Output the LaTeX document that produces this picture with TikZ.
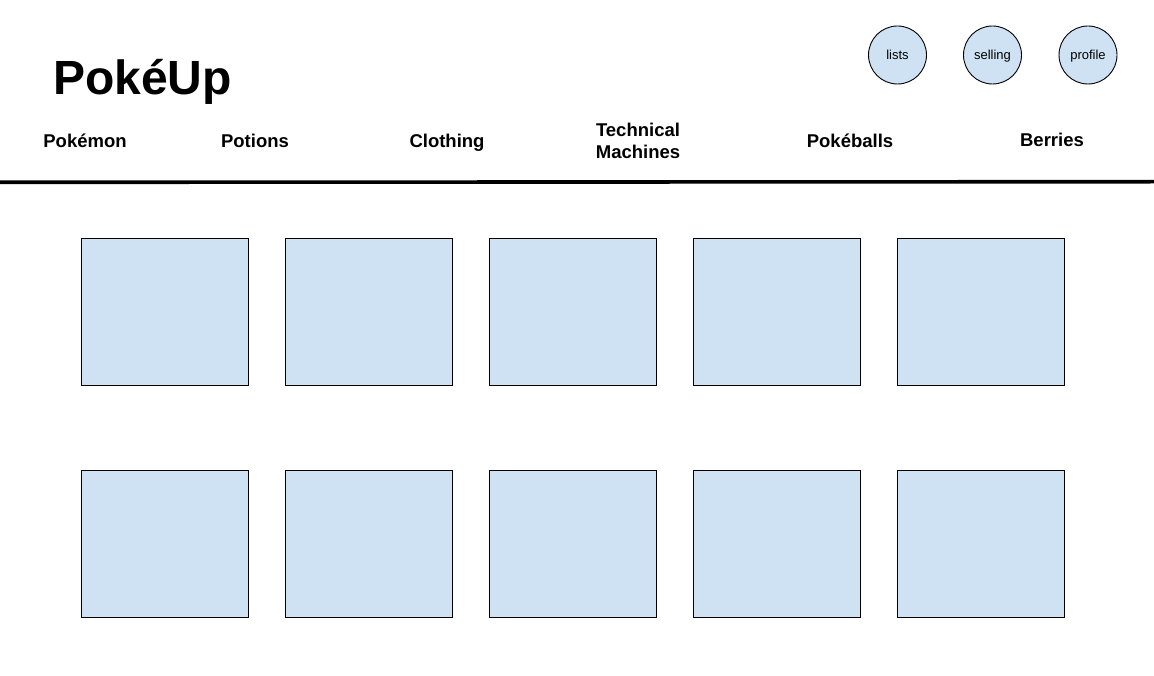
\documentclass[tikz,border=0pt]{standalone}
\usepackage{fontspec}
\setmainfont{Liberation Sans}
\definecolor{boxfill}{HTML}{CFE2F3}
\begin{document}
\begin{tikzpicture}[x=1pt,y=-1pt,
  tile/.style={draw=black,line width=0.9pt,fill=boxfill},
  navbtn/.style={circle,draw=black,line width=0.9pt,fill=boxfill,minimum size=58pt,inner sep=0pt,font=\fontsize{13}{15}\selectfont,text height=9.5pt,text depth=0pt},
  menu/.style={font=\bfseries\fontsize{18.5}{22}\selectfont,inner sep=0pt,text height=13.3pt,text depth=0pt},
  menutwo/.style={font=\bfseries\fontsize{18.5}{22.5}\selectfont,align=center,inner sep=0pt}]
\useasboundingbox (0,0) rectangle (1154,676);
\node[font=\bfseries\fontsize{48}{52}\selectfont,anchor=base west,inner sep=0pt] (title) at (53,95) {PokéUp};
\node[navbtn] (lists) at (897.5,55) {lists};
\node[navbtn] (selling) at (992.5,55) {selling};
\node[navbtn] (profile) at (1088,55) {profile};
\node[menu] (m1) at (85,140.5) {Pokémon};
\node[menu] (m2) at (255,140.5) {Potions};
\node[menu] (m3) at (447,140.5) {Clothing};
\node[menutwo] (m4) at (638,141) {Technical\\Machines};
\node[menu] (m5) at (850,140.5) {Pokéballs};
\node[menu] (m6) at (1052,139.5) {Berries};
\coordinate (lineL) at (0,182.3);
\coordinate (lineR) at (1154,181.7);
\draw[line width=3.6pt] (lineL) -- (lineR);
\foreach \i in {0,...,4}{
  \pgfmathsetmacro{\xx}{81+204*\i}
  \draw[tile] (\xx,238.5) rectangle ++(167.5,147) node[coordinate] (t1\i) {};
  \draw[tile] (\xx,470.5) rectangle ++(167.5,147) node[coordinate] (t2\i) {};
}
\end{tikzpicture}
\end{document}
